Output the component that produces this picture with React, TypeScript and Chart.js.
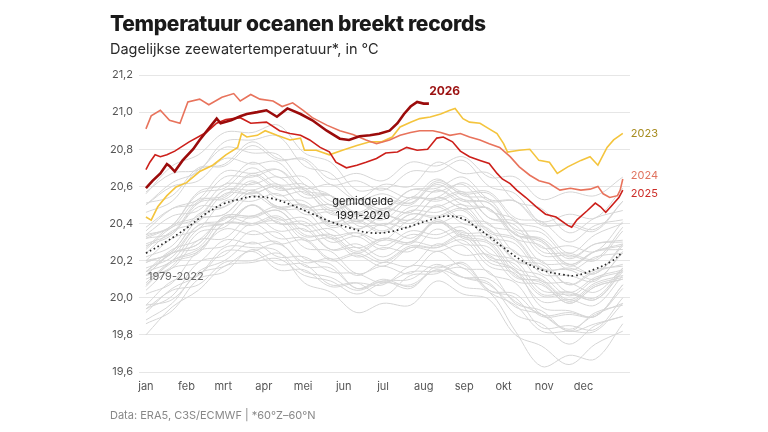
import { useEffect, useRef } from "react";
import { Chart, registerables } from "chart.js";

Chart.register(...registerables);

// ---------- axis data ----------
const monthTicks = [0, 31, 59, 90, 120, 151, 181, 212, 243, 273, 304, 334];
const monthLabels = ["jan", "feb", "mrt", "apr", "mei", "jun", "jul", "aug", "sep", "okt", "nov", "dec"];

// ---------- 1979-2022 (grey) ----------
const greyDays = [0, 20, 40, 60, 81, 101, 121, 141, 161, 181, 202, 222, 242, 262, 282, 302, 323, 343, 364];
const greyYears = [
  1979, 1980, 1981, 1982, 1983, 1984, 1985, 1986, 1987, 1988, 1989, 1990, 1991, 1992, 1993,
  1994, 1995, 1996, 1997, 1998, 1999, 2000, 2001, 2002, 2003, 2004, 2005, 2006, 2007, 2008,
  2009, 2010, 2011, 2012, 2013, 2014, 2015, 2016, 2017, 2018, 2019, 2020, 2021, 2022,
];
const greyTemps = [
  [19.80, 19.95, 20.04, 20.17, 20.19, 20.21, 20.12, 20.09, 20.02, 20.08, 20.07, 20.15, 20.11, 20.10, 19.98, 19.91, 19.82, 19.86, 19.90],
  [19.88, 19.97, 20.14, 20.20, 20.30, 20.22, 20.22, 20.14, 20.13, 20.08, 20.14, 20.14, 20.16, 20.03, 19.96, 19.82, 19.82, 19.82, 19.97],
  [19.94, 20.04, 20.07, 20.19, 20.20, 20.24, 20.14, 20.11, 20.04, 20.09, 20.10, 20.18, 20.11, 20.07, 19.95, 19.91, 19.83, 19.91, 19.97],
  [19.96, 19.99, 20.13, 20.17, 20.25, 20.15, 20.15, 20.06, 20.08, 20.07, 20.17, 20.16, 20.18, 20.04, 20.02, 19.90, 19.91, 19.90, 20.05],
  [20.06, 20.20, 20.26, 20.37, 20.34, 20.35, 20.21, 20.18, 20.05, 20.09, 20.05, 20.17, 20.11, 20.08, 19.91, 19.86, 19.75, 19.85, 19.90],
  [19.92, 20.05, 20.12, 20.27, 20.27, 20.25, 20.08, 20.03, 19.92, 19.97, 19.96, 20.09, 20.02, 19.99, 19.80, 19.74, 19.64, 19.75, 19.82],
  [19.86, 19.93, 20.10, 20.14, 20.26, 20.18, 20.18, 20.07, 20.08, 20.01, 20.12, 20.13, 20.19, 20.04, 20.00, 19.84, 19.85, 19.83, 20.00],
  [19.96, 20.09, 20.12, 20.25, 20.25, 20.29, 20.19, 20.21, 20.12, 20.19, 20.17, 20.29, 20.23, 20.23, 20.09, 20.07, 19.97, 20.06, 20.10],
  [20.10, 20.17, 20.35, 20.38, 20.50, 20.42, 20.43, 20.32, 20.35, 20.31, 20.42, 20.40, 20.44, 20.30, 20.25, 20.09, 20.08, 20.03, 20.16],
  [20.14, 20.26, 20.31, 20.43, 20.40, 20.41, 20.27, 20.25, 20.13, 20.17, 20.13, 20.25, 20.16, 20.14, 19.97, 19.93, 19.82, 19.92, 19.96],
  [19.94, 20.01, 20.19, 20.23, 20.36, 20.29, 20.31, 20.20, 20.23, 20.17, 20.27, 20.27, 20.33, 20.19, 20.15, 20.01, 20.02, 19.99, 20.14],
  [20.12, 20.24, 20.27, 20.43, 20.43, 20.47, 20.34, 20.33, 20.24, 20.31, 20.29, 20.41, 20.33, 20.30, 20.14, 20.10, 19.99, 20.08, 20.12],
  [20.14, 20.20, 20.37, 20.40, 20.50, 20.40, 20.41, 20.30, 20.33, 20.26, 20.34, 20.32, 20.36, 20.21, 20.15, 19.95, 19.93, 19.90, 20.07],
  [20.04, 20.16, 20.19, 20.31, 20.29, 20.30, 20.17, 20.16, 20.05, 20.10, 20.06, 20.15, 20.06, 20.03, 19.82, 19.63, 19.69, 19.67, 19.86],
  [20.02, 20.08, 20.25, 20.28, 20.40, 20.32, 20.32, 20.21, 20.24, 20.19, 20.27, 20.25, 20.28, 20.13, 20.08, 19.91, 19.92, 19.90, 20.07],
  [20.07, 20.19, 20.24, 20.40, 20.40, 20.44, 20.33, 20.34, 20.25, 20.32, 20.30, 20.41, 20.35, 20.34, 20.20, 20.18, 20.07, 20.15, 20.17],
  [20.20, 20.24, 20.39, 20.40, 20.50, 20.40, 20.39, 20.26, 20.27, 20.20, 20.28, 20.27, 20.31, 20.17, 20.13, 19.98, 19.99, 19.96, 20.12],
  [20.08, 20.20, 20.25, 20.40, 20.39, 20.43, 20.31, 20.32, 20.22, 20.27, 20.25, 20.37, 20.29, 20.27, 20.11, 20.09, 19.98, 20.07, 20.11],
  [20.16, 20.22, 20.39, 20.42, 20.55, 20.48, 20.50, 20.40, 20.45, 20.42, 20.53, 20.54, 20.62, 20.52, 20.52, 20.41, 20.45, 20.43, 20.59],
  [20.57, 20.67, 20.69, 20.81, 20.78, 20.77, 20.61, 20.55, 20.39, 20.39, 20.32, 20.41, 20.32, 20.29, 20.12, 20.08, 19.97, 20.06, 20.10],
  [20.12, 20.16, 20.31, 20.32, 20.44, 20.36, 20.37, 20.26, 20.29, 20.22, 20.30, 20.28, 20.34, 20.22, 20.18, 20.02, 20.03, 20.00, 20.16],
  [20.14, 20.24, 20.29, 20.44, 20.44, 20.47, 20.36, 20.37, 20.27, 20.32, 20.30, 20.42, 20.34, 20.32, 20.16, 20.12, 20.01, 20.10, 20.14],
  [20.19, 20.25, 20.42, 20.45, 20.57, 20.49, 20.50, 20.38, 20.41, 20.35, 20.45, 20.44, 20.48, 20.35, 20.31, 20.15, 20.16, 20.13, 20.29],
  [20.27, 20.39, 20.44, 20.58, 20.56, 20.60, 20.49, 20.50, 20.41, 20.48, 20.46, 20.58, 20.52, 20.51, 20.37, 20.35, 20.22, 20.29, 20.30],
  [20.34, 20.38, 20.53, 20.53, 20.63, 20.53, 20.52, 20.41, 20.44, 20.39, 20.49, 20.49, 20.53, 20.39, 20.35, 20.19, 20.18, 20.13, 20.28],
  [20.26, 20.38, 20.43, 20.58, 20.58, 20.61, 20.48, 20.47, 20.37, 20.44, 20.42, 20.54, 20.48, 20.48, 20.34, 20.31, 20.18, 20.25, 20.26],
  [20.29, 20.35, 20.52, 20.55, 20.67, 20.59, 20.58, 20.45, 20.46, 20.39, 20.47, 20.46, 20.50, 20.36, 20.32, 20.16, 20.15, 20.10, 20.24],
  [20.20, 20.32, 20.37, 20.52, 20.52, 20.56, 20.45, 20.46, 20.37, 20.44, 20.42, 20.54, 20.48, 20.48, 20.34, 20.32, 20.21, 20.29, 20.31],
  [20.32, 20.35, 20.49, 20.49, 20.58, 20.48, 20.47, 20.34, 20.35, 20.28, 20.36, 20.34, 20.38, 20.24, 20.20, 20.04, 20.03, 19.99, 20.15],
  [20.12, 20.24, 20.29, 20.44, 20.44, 20.49, 20.39, 20.41, 20.33, 20.40, 20.38, 20.50, 20.42, 20.40, 20.24, 20.20, 20.07, 20.14, 20.18],
  [20.22, 20.28, 20.45, 20.49, 20.62, 20.55, 20.57, 20.47, 20.51, 20.47, 20.58, 20.59, 20.65, 20.53, 20.52, 20.39, 20.40, 20.37, 20.52],
  [20.50, 20.60, 20.63, 20.75, 20.72, 20.73, 20.58, 20.55, 20.42, 20.45, 20.40, 20.49, 20.40, 20.37, 20.20, 20.16, 20.03, 20.11, 20.15],
  [20.19, 20.25, 20.42, 20.45, 20.57, 20.49, 20.50, 20.39, 20.42, 20.36, 20.45, 20.43, 20.47, 20.33, 20.29, 20.13, 20.12, 20.09, 20.25],
  [20.24, 20.36, 20.41, 20.56, 20.56, 20.60, 20.49, 20.50, 20.41, 20.48, 20.46, 20.58, 20.50, 20.48, 20.32, 20.28, 20.15, 20.22, 20.24],
  [20.28, 20.34, 20.51, 20.54, 20.66, 20.58, 20.59, 20.48, 20.51, 20.45, 20.54, 20.52, 20.56, 20.43, 20.41, 20.27, 20.28, 20.25, 20.41],
  [20.38, 20.48, 20.51, 20.65, 20.65, 20.69, 20.59, 20.61, 20.53, 20.61, 20.60, 20.73, 20.67, 20.67, 20.52, 20.48, 20.35, 20.43, 20.47],
  [20.51, 20.55, 20.70, 20.71, 20.82, 20.74, 20.75, 20.64, 20.67, 20.63, 20.73, 20.71, 20.76, 20.65, 20.65, 20.53, 20.57, 20.55, 20.65],
  [20.56, 20.71, 20.77, 20.89, 20.89, 20.93, 20.78, 20.73, 20.58, 20.59, 20.54, 20.64, 20.55, 20.53, 20.36, 20.31, 20.18, 20.25, 20.28],
  [20.32, 20.39, 20.57, 20.61, 20.73, 20.65, 20.65, 20.52, 20.53, 20.46, 20.54, 20.53, 20.57, 20.43, 20.39, 20.23, 20.23, 20.20, 20.36],
  [20.34, 20.44, 20.47, 20.61, 20.61, 20.65, 20.54, 20.55, 20.46, 20.53, 20.51, 20.63, 20.57, 20.57, 20.43, 20.41, 20.30, 20.39, 20.42],
  [20.46, 20.52, 20.69, 20.72, 20.84, 20.75, 20.74, 20.61, 20.63, 20.58, 20.68, 20.68, 20.74, 20.60, 20.56, 20.40, 20.39, 20.36, 20.52],
  [20.50, 20.62, 20.68, 20.84, 20.85, 20.87, 20.71, 20.67, 20.53, 20.56, 20.51, 20.61, 20.53, 20.51, 20.34, 20.30, 20.17, 20.25, 20.29],
  [20.33, 20.39, 20.56, 20.59, 20.70, 20.61, 20.61, 20.50, 20.53, 20.48, 20.58, 20.57, 20.61, 20.47, 20.42, 20.25, 20.24, 20.21, 20.38],
  [20.36, 20.48, 20.53, 20.68, 20.67, 20.69, 20.56, 20.55, 20.45, 20.52, 20.50, 20.62, 20.56, 20.56, 20.41, 20.37, 20.24, 20.34, 20.40],
];

// ---------- average 1991-2020 ----------
const meanDays = [0, 15, 31, 45, 59, 71, 82, 96, 111, 126, 141, 156, 171, 186, 204, 217, 230, 242, 252, 262, 272, 287, 302, 318, 328, 343, 355, 364];
const meanTemps = [20.24, 20.30, 20.375, 20.45, 20.505, 20.53, 20.545, 20.535, 20.50, 20.455, 20.41, 20.375, 20.35, 20.355, 20.39, 20.42, 20.44, 20.425, 20.38, 20.33, 20.275, 20.20, 20.15, 20.125, 20.12, 20.155, 20.195, 20.245];

// ---------- 2023 ----------
const days2023 = [0, 4, 9, 16, 23, 31, 41, 51, 61, 70, 73, 77, 85, 91, 100, 110, 118, 121, 130, 140, 150, 161, 171, 180, 188, 194, 202, 209, 217, 225, 232, 236, 242, 247, 255, 262, 268, 273, 276, 285, 293, 300, 308, 314, 322, 332, 339, 345, 352, 357, 364];
const temps2023 = [20.435, 20.418, 20.49, 20.55, 20.597, 20.62, 20.68, 20.714, 20.77, 20.81, 20.885, 20.866, 20.875, 20.90, 20.875, 20.85, 20.86, 20.795, 20.795, 20.77, 20.795, 20.82, 20.84, 20.84, 20.866, 20.92, 20.946, 20.965, 20.974, 20.99, 21.01, 21.02, 20.965, 20.946, 20.94, 20.91, 20.885, 20.83, 20.785, 20.795, 20.80, 20.74, 20.73, 20.67, 20.705, 20.74, 20.76, 20.714, 20.81, 20.85, 20.885];

// ---------- 2024 ----------
const days2024 = [0, 4, 11, 18, 26, 32, 41, 48, 58, 67, 72, 80, 87, 97, 104, 112, 120, 127, 138, 148, 158, 168, 176, 186, 194, 202, 209, 219, 225, 232, 240, 247, 255, 262, 270, 278, 285, 293, 300, 308, 316, 324, 332, 339, 345, 349, 354, 360, 362, 364];
const temps2024 = [20.91, 20.98, 21.01, 20.956, 20.94, 21.055, 21.07, 21.04, 21.08, 21.10, 21.06, 21.095, 21.07, 21.06, 21.03, 21.05, 21.01, 20.97, 20.93, 20.90, 20.88, 20.85, 20.83, 20.85, 20.875, 20.89, 20.90, 20.90, 20.89, 20.875, 20.885, 20.866, 20.85, 20.83, 20.81, 20.76, 20.705, 20.66, 20.63, 20.615, 20.58, 20.59, 20.58, 20.585, 20.60, 20.56, 20.54, 20.55, 20.58, 20.64];

// ---------- 2025 ----------
const days2025 = [0, 3, 7, 11, 16, 22, 33, 46, 54, 61, 72, 80, 92, 102, 110, 118, 125, 133, 140, 145, 153, 161, 168, 176, 183, 192, 199, 207, 215, 222, 227, 234, 240, 247, 255, 262, 268, 272, 278, 283, 290, 298, 305, 313, 322, 325, 329, 337, 343, 347, 351, 356, 361, 364];
const temps2025 = [20.69, 20.73, 20.77, 20.76, 20.77, 20.79, 20.84, 20.89, 20.94, 20.96, 20.97, 20.94, 20.946, 20.90, 20.885, 20.875, 20.85, 20.81, 20.786, 20.73, 20.70, 20.714, 20.73, 20.75, 20.78, 20.785, 20.81, 20.795, 20.80, 20.86, 20.866, 20.84, 20.79, 20.76, 20.74, 20.723, 20.67, 20.64, 20.615, 20.58, 20.54, 20.49, 20.45, 20.435, 20.39, 20.38, 20.42, 20.47, 20.51, 20.49, 20.46, 20.50, 20.54, 20.58];

// ---------- 2026 ----------
const days2026 = [0, 5, 11, 16, 18, 22, 28, 36, 41, 50, 54, 57, 65, 72, 77, 85, 92, 100, 108, 118, 127, 138, 148, 155, 163, 171, 178, 186, 192, 197, 202, 207, 212, 216];
const temps2026 = [20.59, 20.63, 20.67, 20.72, 20.71, 20.68, 20.74, 20.80, 20.85, 20.93, 20.965, 20.94, 20.956, 20.978, 20.99, 21.0, 21.01, 20.975, 21.02, 20.99, 20.956, 20.90, 20.857, 20.85, 20.87, 20.875, 20.884, 20.90, 20.94, 20.99, 21.03, 21.055, 21.046, 21.046];

const FONT = "Inter, 'Noto Sans', sans-serif";

const toXY = (xs: number[], ys: number[]) => xs.map((x, i) => ({ x, y: ys[i] }));

const labelPlugin = {
  id: "seriesLabels",
  afterDatasetsDraw(chart: any) {
    const { ctx, scales } = chart;
    const x = scales.x;
    const y = scales.y;
    const endX = x.getPixelForValue(364) + 8;
    ctx.save();
    ctx.textBaseline = "middle";

    ctx.font = `11px ${FONT}`;
    ctx.textAlign = "left";
    ctx.fillStyle = "#a68b1d";
    ctx.fillText("2023", endX, y.getPixelForValue(20.886));
    ctx.fillStyle = "#e0735f";
    ctx.fillText("2024", endX, y.getPixelForValue(20.66));
    ctx.fillStyle = "#cc2b25";
    ctx.fillText("2025", endX, y.getPixelForValue(20.563));

    ctx.font = `bold 12px ${FONT}`;
    ctx.textAlign = "center";
    ctx.fillStyle = "#9b1010";
    ctx.fillText("2026", x.getPixelForValue(228), y.getPixelForValue(21.112));

    ctx.font = `11px ${FONT}`;
    ctx.fillStyle = "#222";
    ctx.fillText("gemiddelde", x.getPixelForValue(165.6), y.getPixelForValue(20.515));
    ctx.fillText("1991-2020", x.getPixelForValue(165.6), y.getPixelForValue(20.44));

    ctx.textAlign = "left";
    ctx.fillStyle = "#666";
    ctx.fillText("1979-2022", x.getPixelForValue(1.5), y.getPixelForValue(20.115));
    ctx.restore();
  },
};

export default function App() {
  const canvasRef = useRef<HTMLCanvasElement | null>(null);

  useEffect(() => {
    if (!canvasRef.current) return;
    const greySets = greyYears.map((yr, i) => ({
      label: String(yr),
      data: toXY(greyDays, greyTemps[i]),
      borderColor: "#d6d6d6",
      borderWidth: 1,
      pointRadius: 0,
      tension: 0.35,
      order: 10,
    }));
    const chart = new Chart(canvasRef.current, {
      type: "line",
      data: {
        datasets: [
          { label: "2026", data: toXY(days2026, temps2026), borderColor: "#9b0b0b", borderWidth: 2.6, pointRadius: 0, tension: 0, order: 1 },
          { label: "2025", data: toXY(days2025, temps2025), borderColor: "#cc1f1a", borderWidth: 1.6, pointRadius: 0, tension: 0, order: 2 },
          { label: "2024", data: toXY(days2024, temps2024), borderColor: "#e8735c", borderWidth: 1.6, pointRadius: 0, tension: 0, order: 3 },
          { label: "2023", data: toXY(days2023, temps2023), borderColor: "#f4c43c", borderWidth: 1.6, pointRadius: 0, tension: 0, order: 4 },
          { label: "gemiddelde", data: toXY(meanDays, meanTemps), borderColor: "#2a2a2a", borderWidth: 1.7, borderDash: [1.6, 2.8], pointRadius: 0, tension: 0.4, order: 5 },
          ...greySets,
        ],
      },
      options: {
        animation: false,
        responsive: false,
        devicePixelRatio: 1,
        layout: { padding: { left: 100, right: 138, top: 75, bottom: 32 } },
        plugins: { legend: { display: false }, tooltip: { enabled: false }, title: { display: false } },
        scales: {
          x: {
            type: "linear",
            min: -5.3,
            max: 369.5,
            grid: { display: false, drawTicks: false },
            border: { display: false },
            afterFit: (s: any) => { s.height = 28; },
            afterBuildTicks: (s: any) => { s.ticks = monthTicks.map((v) => ({ value: v })); },
            ticks: {
              autoSkip: false,
              maxRotation: 0,
              padding: 8,
              color: "#555",
              font: { family: FONT, size: 11 },
              callback: (v: any) => monthLabels[monthTicks.indexOf(Number(v))] ?? "",
            },
          },
          y: {
            min: 19.6,
            max: 21.2,
            grid: { color: "#e6e6e6", lineWidth: 1, drawTicks: false },
            border: { display: false },
            afterFit: (s: any) => { s.width = 39; },
            ticks: {
              stepSize: 0.2,
              padding: 6,
              color: "#555",
              font: { family: FONT, size: 11 },
              callback: (v: any) => Number(v).toFixed(1).replace(".", ","),
            },
          },
        },
      },
      plugins: [labelPlugin],
    });
    return () => chart.destroy();
  }, []);

  return (
    <div style={{ position: "fixed", left: 0, top: 0, width: 768, height: 432, background: "#fff", overflow: "hidden" }}>
      <canvas ref={canvasRef} width={768} height={432} style={{ position: "absolute", left: 0, top: 0, width: 768, height: 432 }} />
      <div style={{ position: "absolute", left: 110, top: 12, fontFamily: FONT, fontWeight: 800, fontSize: 21, lineHeight: "24px", color: "#1a1a1a", letterSpacing: -0.3, whiteSpace: "nowrap" }}>
        Temperatuur oceanen breekt records
      </div>
      <div style={{ position: "absolute", left: 110, top: 40, fontFamily: FONT, fontSize: 14.5, lineHeight: "18px", color: "#2a2a2a", whiteSpace: "nowrap" }}>
        Dagelijkse zeewatertemperatuur*, in °C
      </div>
      <div style={{ position: "absolute", left: 110, top: 408, fontFamily: FONT, fontSize: 11, lineHeight: "14px", color: "#888", whiteSpace: "nowrap" }}>
        Data: ERA5, C3S/ECMWF | *60°Z–60°N
      </div>
    </div>
  );
}
